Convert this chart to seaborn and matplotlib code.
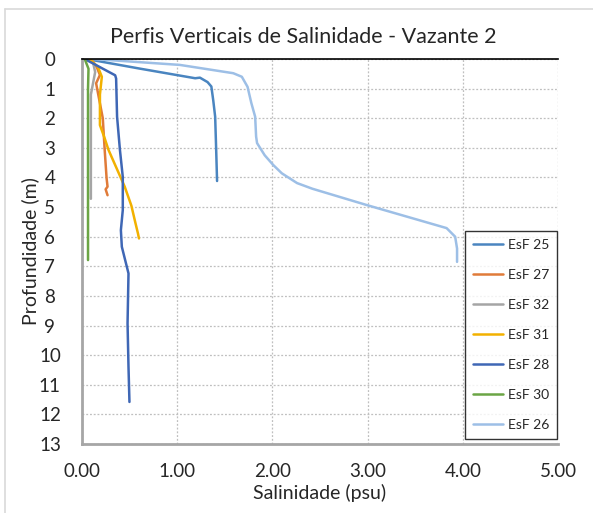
import numpy as np
import pandas as pd
import matplotlib
matplotlib.use("Agg")
import matplotlib.pyplot as plt
import seaborn as sns
from matplotlib.lines import Line2D

# salinity (psu) vs depth (m), one profile per station
esf25_sal = [0.05, 0.60, 1.19, 1.24, 1.32, 1.36, 1.38, 1.40, 1.41, 1.42]
esf25_dep = [0.00, 0.32, 0.65, 0.63, 0.78, 0.93, 1.40, 1.95, 3.00, 4.12]

esf27_sal = [0.10, 0.16, 0.19, 0.15, 0.17, 0.22, 0.24, 0.26, 0.27, 0.25, 0.27]
esf27_dep = [0.00, 0.30, 0.54, 0.82, 1.16, 2.00, 3.07, 4.03, 4.31, 4.40, 4.60]

esf32_sal = [0.05, 0.12, 0.14, 0.12, 0.095, 0.095, 0.095]
esf32_dep = [0.00, 0.15, 0.44, 0.78, 1.20, 3.00, 4.72]

esf31_sal = [0.08, 0.17, 0.19, 0.21, 0.19, 0.19, 0.24, 0.28, 0.42, 0.45, 0.52, 0.56, 0.59, 0.60]
esf31_dep = [0.00, 0.27, 0.44, 0.60, 1.20, 2.23, 2.68, 3.07, 4.09, 4.31, 4.95, 5.50, 5.90, 6.06]

esf28_sal = [0.03, 0.35, 0.36, 0.37, 0.40, 0.43, 0.43, 0.41, 0.42, 0.49, 0.48, 0.49, 0.50]
esf28_dep = [0.00, 0.55, 0.66, 1.95, 3.07, 3.98, 5.10, 5.78, 6.34, 7.24, 8.93, 10.40, 11.58]

esf30_sal = [0.03, 0.07, 0.065, 0.065, 0.065]
esf30_dep = [0.00, 0.33, 1.00, 4.00, 6.79]

esf26_sal = [0.12, 1.03, 1.59, 1.68, 1.74, 1.78, 1.82, 1.83, 1.84, 1.92, 2.01, 2.10,
             2.26, 2.42, 2.99, 3.83, 3.92, 3.94, 3.94]
esf26_dep = [0.00, 0.20, 0.48, 0.60, 0.94, 1.49, 1.95, 2.62, 2.84, 3.25, 3.58, 3.86,
             4.19, 4.38, 4.93, 5.71, 6.00, 6.40, 6.85]

stations = ["EsF 25", "EsF 27", "EsF 32", "EsF 31", "EsF 28", "EsF 30", "EsF 26"]
cores = ["#4A85C0", "#E07B39", "#A5A5A5", "#F2B100", "#3F67B5", "#6BA545", "#9DBFE6"]

perfis = [(esf25_sal, esf25_dep), (esf27_sal, esf27_dep), (esf32_sal, esf32_dep),
          (esf31_sal, esf31_dep), (esf28_sal, esf28_dep), (esf30_sal, esf30_dep),
          (esf26_sal, esf26_dep)]

frames = []
for nome, (s, d) in zip(stations, perfis):
    frames.append(pd.DataFrame({"sal": s, "prof": d, "estacao": nome}))
df = pd.concat(frames, ignore_index=True)

sns.set_style("white")
plt.rcParams["font.family"] = ["Lato", "DejaVu Sans"]

fig = plt.figure(figsize=(5.93, 5.13), dpi=100)
ax = fig.add_axes([0.138, 0.1345, 0.803, 0.7505])

sns.lineplot(data=df, x="sal", y="prof", hue="estacao", hue_order=stations,
             palette=cores, sort=False, estimator=None, units="estacao",
             linewidth=1.8, ax=ax, legend=False)

ax.set_xlim(0, 5)
ax.set_ylim(13, 0)
ax.set_xticks(np.arange(0, 5.01, 1))
ax.set_xticklabels([f"{v:.2f}" for v in np.arange(0, 5.01, 1)])
ax.set_yticks(range(0, 14))
ax.tick_params(length=0, labelsize=13.5)
ax.tick_params(axis="x", pad=14)
ax.tick_params(axis="y", pad=23)
for t in ax.get_yticklabels():
    t.set_horizontalalignment("center")
ax.grid(True, color="#BFBFBF", linestyle=(0, (1.5, 1.5)), linewidth=0.9)

ax.spines["right"].set_visible(False)
ax.spines["top"].set_color("black")
ax.spines["top"].set_linewidth(1.2)
for s in ["left", "bottom"]:
    ax.spines[s].set_color("#A6A6A6")
    ax.spines[s].set_linewidth(2)

ax.set_xlabel("Salinidade (psu)", fontsize=14)
ax.set_ylabel("Profundidade (m)", fontsize=14)
ax.xaxis.set_label_coords(0.5, -0.105)
ax.yaxis.set_label_coords(-0.09, 0.5)
fig.text(0.511, 0.916, "Perfis Verticais de Salinidade - Vazante 2", fontsize=15.5,
         ha="center", va="baseline")

handles = [Line2D([], [], color=c, linewidth=1.8) for c in cores]
leg = ax.legend(handles, stations, loc="lower right", bbox_to_anchor=(0.998, 0.013),
                fontsize=10, frameon=True, fancybox=False, labelspacing=1.3,
                handlelength=2.2, borderpad=0.55, handletextpad=0.35, borderaxespad=0)
leg.get_frame().set_edgecolor("black")
leg.get_frame().set_linewidth(1)

# chart area border (only left and top edges show in the crop)
fig.add_artist(Line2D([0.009, 0.009], [0.0, 0.982], transform=fig.transFigure,
                      color="#D9D9D9", linewidth=1.2))
fig.add_artist(Line2D([0.009, 1.0], [0.982, 0.982], transform=fig.transFigure,
                      color="#D9D9D9", linewidth=1.2))

fig.savefig("out.png", dpi=100)
